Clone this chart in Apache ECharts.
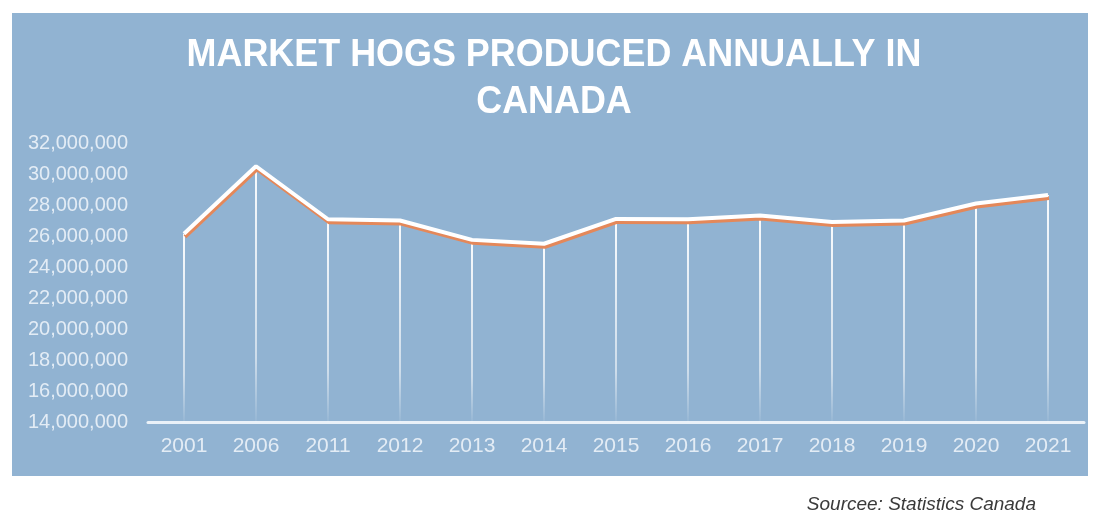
<!DOCTYPE html>
<html>
<head>
<meta charset="utf-8">
<script src="https://cdn.jsdelivr.net/npm/echarts@6/dist/echarts.min.js"></script>
<style>
  html, body { margin: 0; padding: 0; background: #ffffff; }
  #chart { width: 1093px; height: 522px; }
</style>
</head>
<body>
<div id="chart"></div>
<script>
// Market hogs produced annually in Canada (head count)
const years = ['2001', '2006', '2011', '2012', '2013', '2014', '2015', '2016', '2017', '2018', '2019', '2020', '2021'];
const hogs = [26150000, 30500000, 27080000, 27000000, 25750000, 25500000, 27100000, 27080000, 27330000, 26900000, 27000000, 28100000, 28650000];
const titleLines = ['MARKET HOGS PRODUCED ANNUALLY IN', 'CANADA'];
const sourceNote = 'Sourcee: Statistics Canada';

const chart = echarts.init(document.getElementById('chart'), null, { renderer: 'canvas' });

const labelFont = '"Liberation Sans", Arial, sans-serif';

chart.setOption({
  backgroundColor: '#ffffff',
  animation: false,
  graphic: [
    {
      type: 'rect',
      z: -10,
      shape: { x: 12, y: 13, width: 1076, height: 463 },
      style: { fill: '#91b3d2' }
    },
    {
      type: 'text',
      z: 10,
      x: 554,
      y: 32,
      scaleX: 0.945,
      style: {
        text: titleLines.join('\n'),
        fill: '#ffffff',
        font: 'bold 38px "Liberation Sans", Arial, sans-serif',
        textAlign: 'center',
        lineHeight: 47
      }
    },
    {
      type: 'text',
      z: 10,
      x: 1036,
      y: 505,
      style: {
        text: sourceNote,
        fill: '#3a3a3a',
        font: 'italic 19px "Liberation Sans", Arial, sans-serif',
        textAlign: 'right',
        textVerticalAlign: 'middle'
      }
    }
  ],
  grid: { left: 148, right: 9, top: 143, bottom: 100, containLabel: false },
  xAxis: {
    type: 'category',
    data: years,
    boundaryGap: true,
    axisLine: { show: true, lineStyle: { color: '#eaf1f8', width: 3 } },
    axisTick: { show: false },
    axisLabel: {
      color: '#e3ecf5',
      fontFamily: labelFont,
      fontSize: 21,
      margin: 14
    },
    splitLine: { show: false }
  },
  yAxis: {
    type: 'value',
    min: 14000000,
    max: 32000000,
    interval: 2000000,
    axisLine: { show: false },
    axisTick: { show: false },
    splitLine: { show: false },
    axisLabel: {
      color: '#e3ecf5',
      fontFamily: labelFont,
      fontSize: 20,
      margin: 20,
      formatter: v => v.toLocaleString('en-US')
    }
  },
  series: [
    {
      // drop lines from each point down toward the axis
      type: 'bar',
      data: hogs,
      barWidth: 2,
      z: 1,
      itemStyle: {
        color: new echarts.graphic.LinearGradient(0, 0, 0, 1, [
          { offset: 0, color: 'rgba(255,255,255,0.95)' },
          { offset: 0.75, color: 'rgba(255,255,255,0.55)' },
          { offset: 1, color: 'rgba(255,255,255,0.05)' }
        ])
      }
    },
    {
      type: 'line',
      data: hogs,
      z: 3,
      showSymbol: false,
      symbol: 'none',
      lineStyle: {
        color: '#ffffff',
        width: 4,
        shadowColor: '#e4885a',
        shadowBlur: 0,
        shadowOffsetX: 1,
        shadowOffsetY: 3
      }
    }
  ]
});
</script>
</body>
</html>
